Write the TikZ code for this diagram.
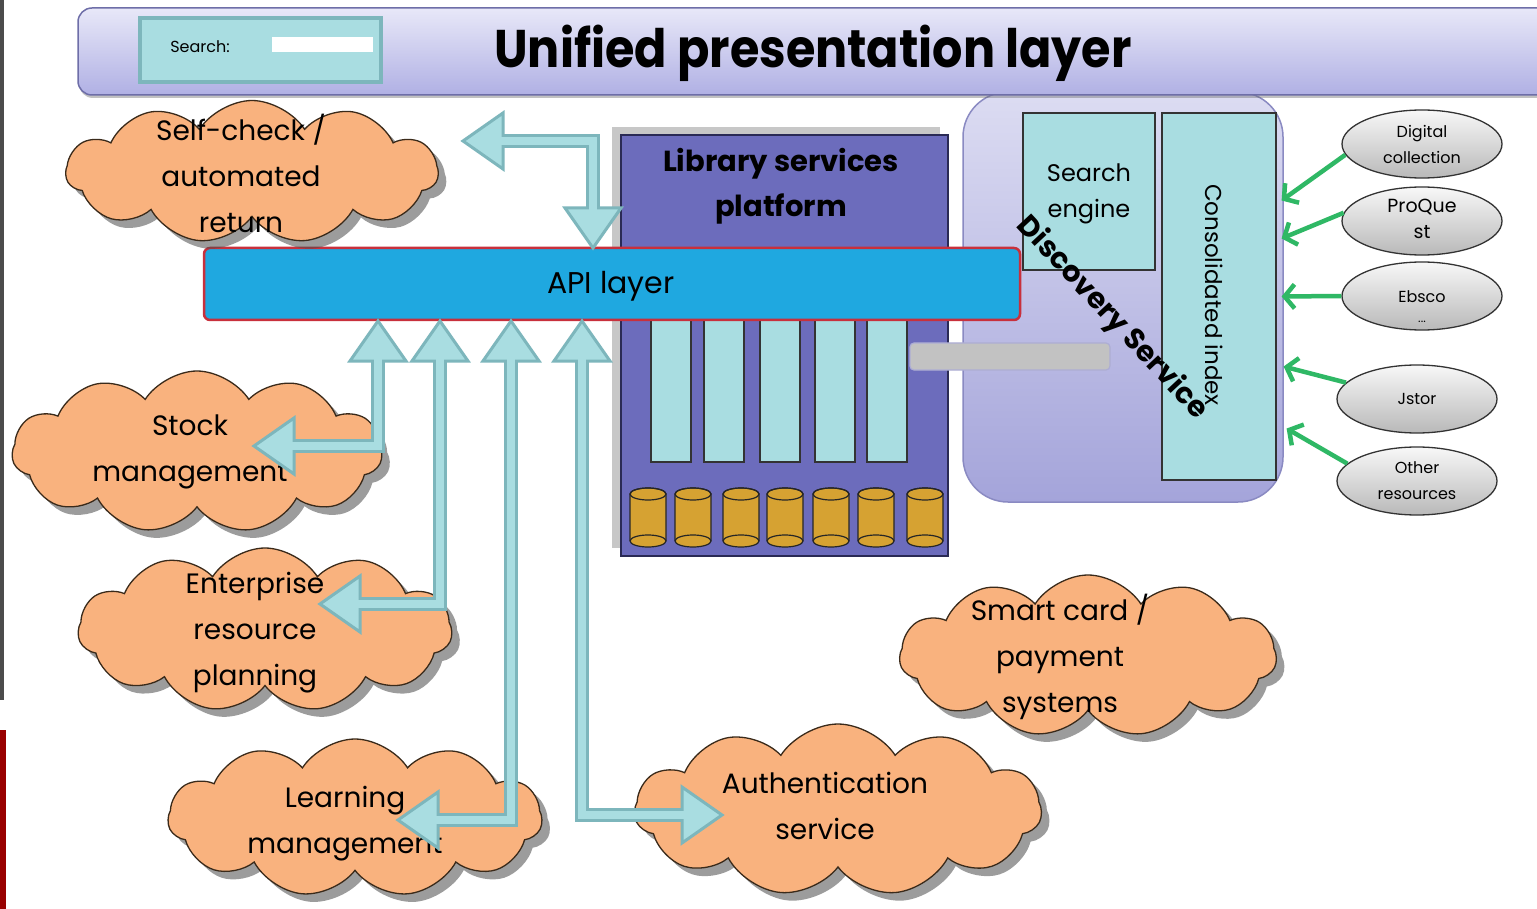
\documentclass[tikz,border=0pt]{standalone}
\usepackage{fontspec}
\setmainfont{Poppins}
\newfontfamily\titlefont{Poppins}[FakeStretch=0.9]
\usetikzlibrary{shapes.symbols,shapes.geometric,shadows,arrows.meta,calc}
\definecolor{bannerTop}{HTML}{E8E8F8}
\definecolor{bannerBot}{HTML}{B0B0E4}
\definecolor{bannerDraw}{HTML}{6E6EA8}
\definecolor{paleCyan}{HTML}{A9DDE1}
\definecolor{cyanDraw}{HTML}{7DB6BC}
\definecolor{lspFill}{HTML}{6C6CBC}
\definecolor{lspDraw}{HTML}{2A2A55}
\definecolor{cylFill}{HTML}{D6A232}
\definecolor{apiFill}{HTML}{1FA8E0}
\definecolor{apiDraw}{HTML}{C8303C}
\definecolor{discTop}{HTML}{DCDCF2}
\definecolor{discBot}{HTML}{A4A4DA}
\definecolor{discDraw}{HTML}{8A8AC2}
\definecolor{cloudFill}{HTML}{F9B27E}
\definecolor{cloudDraw}{HTML}{3A2A1A}
\definecolor{greenArrow}{HTML}{2FB865}
\definecolor{barFill}{HTML}{C2C2C2}
\newcommand{\headU}[1]{\filldraw[ahead] (#1) -- ++(28,40) -- ++(-56,0) -- cycle;}
\newcommand{\headD}[1]{\filldraw[ahead] (#1) -- ++(28,-40) -- ++(-56,0) -- cycle;}
\newcommand{\headL}[1]{\filldraw[ahead] (#1) -- ++(40,-28) -- ++(0,56) -- cycle;}
\newcommand{\headR}[1]{\filldraw[ahead] (#1) -- ++(-40,-28) -- ++(0,56) -- cycle;}
\begin{document}
\begin{tikzpicture}[x=1pt,y=-1pt,
  txt/.style={inner sep=0pt, align=center, text=black},
  cloudbox/.style={cloud, cloud puffs=11, cloud puff arc=115, cloud ignores aspect, inner sep=0pt,
    fill=cloudFill, draw=cloudDraw, line width=1.3pt,
    drop shadow={shadow xshift=8pt, shadow yshift=-8pt, fill=black!70, opacity=0.55}},
  cloudtxt/.style={txt, font=\fontsize{28}{46}\selectfont},
  res/.style={ellipse, minimum width=160pt, minimum height=68pt, inner sep=0pt,
    top color=gray!6, bottom color=gray!55, draw=black!80, line width=1.3pt},
  restxt/.style={txt, font=\fontsize{16}{26}\selectfont},
  colbox/.style={rectangle, minimum width=40pt, minimum height=144pt, inner sep=0pt,
    fill=paleCyan, draw=black!80, line width=1.2pt},
  cyl/.style={fill=cylFill, draw=black!85, line width=1.2pt},
  cylline/.style={draw=black!85, line width=1.2pt},
  garrow/.style={draw=greenArrow, line width=4.5pt, -{Straight Barb[length=10pt,width=24pt]}},
  ashb/.style={draw=cyanDraw, line width=14pt, line join=miter},
  ashf/.style={draw=paleCyan, line width=8pt, line join=miter},
  ahead/.style={fill=paleCyan, draw=cyanDraw, line width=3pt, line join=miter}]
\useasboundingbox (0,0) rectangle (1537,909);
\fill[white] (0,0) rectangle (1537,909);
% screenshot edge strips
\fill[black!70] (0,0) rectangle (4,700);
\fill[red!60!black] (0,730) rectangle (6,909);

% discovery service box
\node[rectangle, rounded corners=45pt, minimum width=320pt, minimum height=410pt, inner sep=0pt,
  top color=discTop, bottom color=discBot, draw=discDraw, line width=1.5pt] (disc) at (1123,297) {};

% banner
\node[rectangle, rounded corners=14pt, minimum width=1502pt, minimum height=87pt, inner sep=0pt,
  top color=bannerTop, bottom color=bannerBot, draw=bannerDraw, line width=1.5pt,
  drop shadow={shadow xshift=1pt, shadow yshift=-3pt, fill=black!60, opacity=0.4}] (banner) at (829,51.5) {};
\node[rectangle, minimum width=241pt, minimum height=64pt, inner sep=0pt,
  fill=paleCyan, draw=cyanDraw, line width=4pt] (searchbox) at (260.5,50) {};
\node[txt, font=\fontsize{16}{20}\selectfont] (searchlbl) at (200,47) {Search:};
\node[rectangle, minimum width=101pt, minimum height=15pt, inner sep=0pt, fill=white] (searchfield) at (322.5,44.5) {};
\node[txt, font=\titlefont\fontsize{53}{60}\selectfont\bfseries] (title) at (813,53) {Unified presentation layer};

% library services platform
\fill[black!22] (612,127) rectangle (940,548);
\node[rectangle, minimum width=327pt, minimum height=421pt, inner sep=0pt,
  fill=lspFill, draw=lspDraw, line width=1.5pt] (lsp) at (784.5,345.5) {};
\node[txt, font=\fontsize{29}{45}\selectfont\bfseries] (lsptitle) at (781,186) {Library services\\platform};
\node[colbox] (col1) at (671,390) {};
\node[colbox] (col2) at (724,390) {};
\node[colbox] (col3) at (780,390) {};
\node[colbox] (col4) at (835,390) {};
\node[colbox] (col5) at (887,390) {};
\foreach \cx in {630,675,723,767,813,858,907} {
  \draw[cyl] (\cx,494) -- (\cx,541) arc[start angle=180,end angle=360,x radius=18pt,y radius=6pt]
    -- (\cx+36,494) arc[start angle=0,end angle=180,x radius=18pt,y radius=6pt] -- cycle;
  \draw[cylline] (\cx+18,494) ellipse[x radius=18pt,y radius=6pt];
  \draw[cylline] (\cx,541) arc[start angle=180,end angle=0,x radius=18pt,y radius=6pt];
}
\node[rectangle, rounded corners=4pt, minimum width=200pt, minimum height=27pt, inner sep=0pt,
  fill=barFill, draw=discDraw!70, line width=1.2pt] (bar) at (1010,356.5) {};

% API layer
\node[rectangle, rounded corners=6pt, minimum width=816pt, minimum height=72pt, inner sep=0pt,
  fill=apiFill, draw=apiDraw, line width=2.5pt] (api) at (612,284) {};
\node[txt, font=\fontsize{30}{34}\selectfont] (apitxt) at (611,286) {API layer};

% discovery service content
\node[rectangle, minimum width=132pt, minimum height=157pt, inner sep=0pt,
  fill=paleCyan, draw=black!80, line width=1.2pt] (se) at (1089,191.5) {};
\node[txt, font=\fontsize{24}{36}\selectfont] (setxt) at (1089,194) {Search\\engine};
\node[rectangle, minimum width=114pt, minimum height=367pt, inner sep=0pt,
  fill=paleCyan, draw=black!80, line width=1.2pt] (ci) at (1219,296.5) {};
\node[txt, font=\fontsize{23}{30}\selectfont, rotate=-90] (citxt) at (1214,295) {Consolidated index};
\node[txt, font=\fontsize{29}{30}\selectfont\bfseries, rotate=-47] (disctxt) at (1112,318) {Discovery Service};

% resources
\node[res] (dig) at (1422,144) {};
\node[restxt] (digtxt) at (1422,144) {Digital\\collection};
\node[res] (pq) at (1422,221) {};
\node[restxt, font=\fontsize{19}{26}\selectfont] (pqtxt) at (1422,219) {ProQue\\st};
\node[res] (eb) at (1422,296) {};
\node[restxt] (ebtxt) at (1422,297) {Ebsco};
\node[restxt, font=\fontsize{12}{12}\selectfont] (ebdots) at (1422,322) {...};
\node[res] (js) at (1417,399) {};
\node[restxt] (jstxt) at (1417,399) {Jstor};
\node[res] (ot) at (1417,481) {};
\node[restxt] (ottxt) at (1417,481) {Other\\resources};
\draw[garrow] (dig.188) -- ($(ci.east)+(5,-96)$);
\draw[garrow] (pq.174) -- ($(ci.east)+(5,-58)$);
\draw[garrow] (eb.west) -- ($(ci.east)+(5,0)$);
\draw[garrow] (js.167) -- ($(ci.east)+(7,70)$);
\draw[garrow] (ot.166) -- ($(ci.east)+(10,132)$);

% clouds
\node[cloudbox, minimum width=372pt, minimum height=143pt] (selfc) at (252,172) {};
\node[cloudtxt] (selfctxt) at (241,173) {Self-check /\\automated\\return};
\node[cloudbox, minimum width=370pt, minimum height=162pt] (stock) at (197,452) {};
\node[cloudtxt] (stocktxt) at (190,452) {Stock\\management};
\node[cloudbox, minimum width=374pt, minimum height=164pt] (erp) at (265,630) {};
\node[cloudtxt] (erptxt) at (255,633) {Enterprise\\resource\\planning};
\node[cloudbox, minimum width=374pt, minimum height=158pt] (learn) at (355,818) {};
\node[cloudtxt] (learntxt) at (345,824) {Learning\\management};
\node[cloudbox, minimum width=377pt, minimum height=162pt] (smart) at (1088,656) {};
\node[cloudtxt] (smarttxt) at (1060,657) {Smart card /\\payment\\systems};
\node[cloudbox, minimum width=407pt, minimum height=172pt] (auth) at (838,810) {};
\node[cloudtxt] (authtxt) at (825,806) {Authentication\\service};

% block arrows
% self-check
\coordinate (scTip) at (463,141);
\coordinate (scA) at (503,141);
\coordinate (scB) at (593,141);
\coordinate (scC) at (593,208);
\coordinate (scTip2) at (593,248);
\headL{scTip}
\headD{scTip2}
\draw[ashb] (scA) -- (scB) -- (scC);
\draw[ashf] ([xshift=-3pt]scA) -- (scB) -- ([yshift=-3pt]scC);
% stock
\coordinate (stTip) at (378,321);
\coordinate (stA) at (378,361);
\coordinate (stB) at (378,446);
\coordinate (stC) at (294,446);
\coordinate (stTip2) at (254,446);
\headU{stTip}
\headL{stTip2}
\draw[ashb] (stA) -- (stB) -- (stC);
\draw[ashf] ([yshift=3pt]stA) -- (stB) -- ([xshift=-3pt]stC);
% erp
\coordinate (erTip) at (440,321);
\coordinate (erA) at (440,361);
\coordinate (erB) at (440,604);
\coordinate (erC) at (360,604);
\coordinate (erTip2) at (320,604);
\headU{erTip}
\headL{erTip2}
\draw[ashb] (erA) -- (erB) -- (erC);
\draw[ashf] ([yshift=3pt]erA) -- (erB) -- ([xshift=-3pt]erC);
% learning
\coordinate (leTip) at (511,321);
\coordinate (leA) at (511,361);
\coordinate (leB) at (511,820);
\coordinate (leC) at (438,820);
\coordinate (leTip2) at (398,820);
\headU{leTip}
\headL{leTip2}
\draw[ashb] (leA) -- (leB) -- (leC);
\draw[ashf] ([yshift=3pt]leA) -- (leB) -- ([xshift=-3pt]leC);
% authentication
\coordinate (auTip) at (582,321);
\coordinate (auA) at (582,361);
\coordinate (auB) at (582,815);
\coordinate (auC) at (682,815);
\coordinate (auTip2) at (722,815);
\headU{auTip}
\headR{auTip2}
\draw[ashb] (auA) -- (auB) -- (auC);
\draw[ashf] ([yshift=3pt]auA) -- (auB) -- ([xshift=3pt]auC);
\end{tikzpicture}
\end{document}
